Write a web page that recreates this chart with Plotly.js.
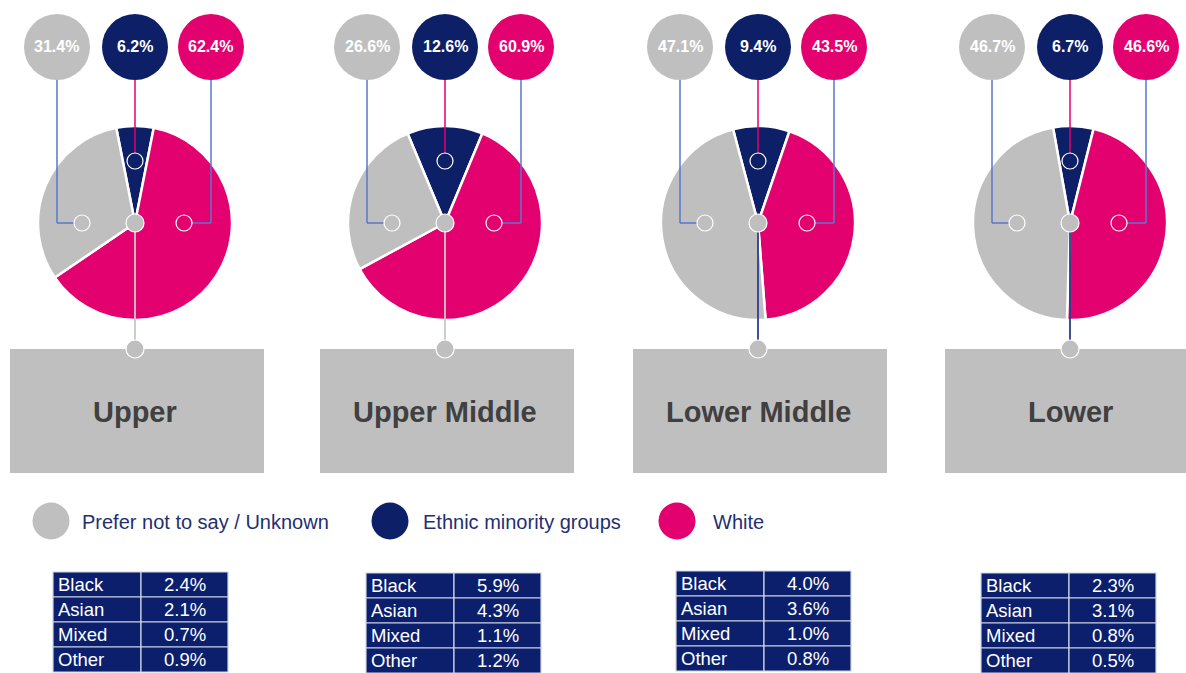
<!DOCTYPE html>
<html>
<head>
<meta charset="utf-8">
<script src="https://cdn.plot.ly/plotly-3.0.1.min.js"></script>
<style>html,body{margin:0;padding:0;background:#fff;}#chart{width:1186px;height:673px;}</style>
</head>
<body>
<div id="chart"></div>
<script>
// ---- data ----
const groups = ['Upper', 'Upper Middle', 'Lower Middle', 'Lower'];
const seriesNames = ['Ethnic minority groups', 'White', 'Prefer not to say / Unknown'];
const minority = [6.2, 12.6, 9.4, 6.7];
const white = [62.4, 60.9, 43.5, 46.6];
const unknown = [31.4, 26.6, 47.1, 46.7];
const breakdownLabels = ['Black', 'Asian', 'Mixed', 'Other'];
const black = [2.4, 5.9, 4.0, 2.3];
const asian = [2.1, 4.3, 3.6, 3.1];
const mixed = [0.7, 1.1, 1.0, 0.8];
const other = [0.9, 1.2, 0.8, 0.5];

// ---- styling ----
const W = 1186, H = 673;
const GREY = '#bfbfbf', NAVY = '#0d1f66', PINK = '#e3006f';
const LINE_BLUE = '#5877cc', TEXT_NAVY = '#1f2f72', TABLE_BG = '#0b1f6c';
const FONT = 'Liberation Sans, Arial, sans-serif';
const centersX = [135, 445, 758, 1070];
const tableLeft = [53, 366, 676, 981];
const tableTop = [572, 573, 571, 573];
const pieCY = 223, R = 97;
const bottomLineColors = ['#c8c8c8', '#c8c8c8', '#2c3f8f', '#2c3f8f'];
const rotOffset = [0, 0, 2, 2];

const px = x => x / W;
const py = y => 1 - y / H;

const traces = [];
const shapes = [];
const annotations = [];

function circle(cx, cy, r, fill, lineColor, lw, layer) {
  shapes.push({type: 'circle', xref: 'paper', yref: 'paper',
    x0: px(cx - r), x1: px(cx + r), y0: py(cy + r), y1: py(cy - r),
    fillcolor: fill, line: {color: lineColor, width: lw}, layer: layer || 'above'});
}
function line(x0, y0, x1, y1, color, w) {
  shapes.push({type: 'line', xref: 'paper', yref: 'paper',
    x0: px(x0), x1: px(x1), y0: py(y0), y1: py(y1),
    line: {color: color, width: w || 1.5}, layer: 'above'});
}
function rect(x0, y0, x1, y1, fill, lineColor, lw, layer) {
  shapes.push({type: 'rect', xref: 'paper', yref: 'paper',
    x0: px(x0), x1: px(x1), y0: py(y1), y1: py(y0),
    fillcolor: fill, line: {color: lineColor, width: lw}, layer: layer || 'below'});
}
function text(x, y, t, size, color, bold, xanchor) {
  annotations.push({xref: 'paper', yref: 'paper', x: px(x), y: py(y), text: bold ? '<b>' + t + '</b>' : t,
    showarrow: false, xanchor: xanchor || 'center', yanchor: 'middle',
    font: {family: FONT, size: size, color: color}});
}

groups.forEach((g, i) => {
  const cx = centersX[i];
  traces.push({
    type: 'pie', name: g,
    labels: seriesNames,
    values: [minority[i], white[i], unknown[i]],
    marker: {colors: [NAVY, PINK, GREY], line: {color: '#ffffff', width: 2.5}},
    sort: false, direction: 'clockwise',
    rotation: -minority[i] * 1.8 + rotOffset[i],
    textinfo: 'none', hoverinfo: 'label+percent', showlegend: false,
    domain: {x: [px(cx - R), px(cx + R)], y: [py(pieCY + R), py(pieCY - R)]}
  });

  // top bubbles
  const topY = 47, br = 33;
  const gx = cx - 78, nx = cx, wx = cx + 76;
  circle(gx, topY, br, GREY, GREY, 0);
  circle(nx, topY, br, NAVY, NAVY, 0);
  circle(wx, topY, br, PINK, PINK, 0);
  text(gx, topY, unknown[i].toFixed(1) + '%', 16, '#ffffff', true);
  text(nx, topY, minority[i].toFixed(1) + '%', 16, '#ffffff', true);
  text(wx, topY, white[i].toFixed(1) + '%', 16, '#ffffff', true);

  // connectors
  const mr = 8;
  const gmx = cx - 53, wmx = cx + 49, nmy = pieCY - 62;
  line(gx, topY + br, gx, pieCY, LINE_BLUE);
  line(gx, pieCY, gmx - mr, pieCY, LINE_BLUE);
  line(wx, topY + br, wx, pieCY, LINE_BLUE);
  line(wx, pieCY, wmx + mr, pieCY, LINE_BLUE);
  line(nx, topY + br, nx, nmy - mr, PINK);
  circle(gmx, pieCY, mr, 'rgba(0,0,0,0)', '#ffffff', 1.2);
  circle(wmx, pieCY, mr, 'rgba(0,0,0,0)', '#ffffff', 1.2);
  circle(nx, nmy, mr, 'rgba(0,0,0,0)', '#ffffff', 1.2);

  // stem to box
  line(cx, pieCY, cx, 349, bottomLineColors[i], 1.8);
  circle(cx, pieCY, 9, GREY, '#ffffff', 1.2);

  // grey box
  rect(cx - 125, 349, Math.min(cx + 129, W + 5), 473, GREY, GREY, 0, 'below');
  circle(cx, 349, 9, GREY, '#ffffff', 1.2);
  text(cx, 412, g, 29, '#404040', true);

  // breakdown table
  const tx0 = tableLeft[i], tx1 = tx0 + 175, tsplit = tx0 + 88, ty0 = tableTop[i], rh = 25;
  const vals = [black[i], asian[i], mixed[i], other[i]];
  breakdownLabels.forEach((lab, r) => {
    const y0 = ty0 + r * rh;
    rect(tx0, y0, tsplit, y0 + rh, TABLE_BG, '#d0d4e4', 1.2, 'above');
    rect(tsplit, y0, tx1, y0 + rh, TABLE_BG, '#d0d4e4', 1.2, 'above');
    text(tx0 + 3, y0 + rh / 2, lab, 18.5, '#ffffff', false, 'left');
    text((tsplit + tx1) / 2, y0 + rh / 2, vals[r].toFixed(1) + '%', 18.5, '#ffffff', false, 'center');
  });
});

// legend
const legendItems = [
  {c: GREY, cx: 51, tx: 80, label: seriesNames[2]},
  {c: NAVY, cx: 390, tx: 421, label: seriesNames[0]},
  {c: PINK, cx: 677, tx: 711, label: seriesNames[1]}
];
legendItems.forEach(it => {
  circle(it.cx, 521, 18.5, it.c, it.c, 0);
  text(it.tx, 522, it.label, 20, TEXT_NAVY, false, 'left');
});

const layout = {
  width: W, height: H,
  margin: {l: 0, r: 0, t: 0, b: 0},
  paper_bgcolor: '#ffffff', plot_bgcolor: '#ffffff',
  showlegend: false,
  shapes: shapes, annotations: annotations,
  font: {family: FONT}
};
Plotly.newPlot('chart', traces, layout, {staticPlot: true});
</script>
</body>
</html>
